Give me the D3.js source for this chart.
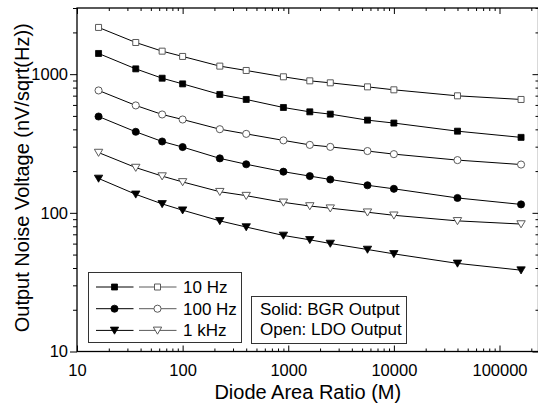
<!DOCTYPE html>
<html>
<head>
<meta charset="utf-8">
<script src="https://cdn.jsdelivr.net/npm/d3@7/dist/d3.min.js"></script>
<style>
  html, body { margin: 0; padding: 0; background: #fff; }
  svg { display: block; font-family: "Liberation Sans", Arial, sans-serif; }
</style>
</head>
<body>
<div id="app"></div>
<script>
// diode area ratio M
const ratios = [16, 36, 64, 100, 225, 400, 900, 1600, 2500, 5625, 10000, 40000, 160000];

// noise, nV/sqrt(Hz)
const bgr10 = [1410, 1092, 935, 851, 714, 657, 575, 535, 515, 466, 444, 388, 350];
const ldo10 = [2173, 1692, 1465, 1342, 1143, 1063, 957, 895, 866, 810, 771, 698, 657];
const bgr100 = [495, 384, 327, 298, 247, 224, 198, 184, 174, 158, 149, 128, 115];
const ldo100 = [763, 595, 512, 471, 401, 371, 333, 309, 299, 279, 265, 240, 223];
const bgr1k = [177, 136, 116, 104.5, 87.5, 79, 68.7, 63.9, 60.1, 54.4, 50.6, 43.2, 38.6];
const ldo1k = [272, 212, 184, 167, 142, 133, 119, 112, 108, 101, 96, 87.5, 83];

const xTicks = [10, 100, 1000, 10000, 100000];
const yTicks = [10, 100, 1000];
const legendLabels = ['10 Hz', '100 Hz', '1 kHz'];
const noteLines = ['Solid: BGR Output', 'Open: LDO Output'];

const series = [
  { values: bgr10, shape: 'square', open: false },
  { values: ldo10, shape: 'square', open: true },
  { values: bgr100, shape: 'circle', open: false },
  { values: ldo100, shape: 'circle', open: true },
  { values: bgr1k, shape: 'triangle', open: false },
  { values: ldo1k, shape: 'triangle', open: true }
];

const width = 538;
const height = 405;
const margin = { top: 8, right: -0.5, bottom: 53.5, left: 77 };
const innerW = width - margin.left - margin.right;
const innerH = height - margin.top - margin.bottom;
const openStroke = '#5a5a5a';

const svg = d3.select('#app').append('svg')
  .attr('width', width)
  .attr('height', height);

const g = svg.append('g')
  .attr('transform', `translate(${margin.left},${margin.top})`);

const x = d3.scaleLog().domain([10, 234000]).range([0, innerW]);
const y = d3.scaleLog().domain([10, 3000]).range([innerH, 0]);

// minor tick values for both log axes
const minorsX = [];
for (let d = 10; d < 1e6; d *= 10)
  for (let k = 2; k <= 9; k++) if (d * k <= x.domain()[1]) minorsX.push(d * k);
const minorsY = [];
for (let d = 10; d < 1e4; d *= 10)
  for (let k = 2; k <= 9; k++) if (d * k <= y.domain()[1]) minorsY.push(d * k);

const tickStyle = sel => {
  sel.select('.domain').remove();
  sel.selectAll('line').attr('stroke', '#000');
  sel.selectAll('text').attr('font-size', 16.5).attr('fill', '#000');
};

// bottom: inward ticks
g.append('g').attr('transform', `translate(0,${innerH})`)
  .call(d3.axisBottom(x).tickValues(xTicks).tickSize(-6).tickPadding(13).tickFormat(d3.format('d')))
  .call(tickStyle);
g.append('g').attr('transform', `translate(0,${innerH})`)
  .call(d3.axisBottom(x).tickValues(minorsX).tickSize(-3).tickFormat(''))
  .call(tickStyle);
// top: inward ticks
g.append('g')
  .call(d3.axisTop(x).tickValues(xTicks).tickSize(-6).tickFormat(''))
  .call(tickStyle);
g.append('g')
  .call(d3.axisTop(x).tickValues(minorsX).tickSize(-3).tickFormat(''))
  .call(tickStyle);
// left: outward ticks
g.append('g')
  .call(d3.axisLeft(y).tickValues(yTicks).tickSize(7).tickPadding(2).tickFormat(d3.format('d')))
  .call(tickStyle);
g.append('g')
  .call(d3.axisLeft(y).tickValues(minorsY).tickSize(4).tickFormat(''))
  .call(tickStyle);
// right: inward ticks
g.append('g').attr('transform', `translate(${innerW},0)`)
  .call(d3.axisRight(y).tickValues(yTicks).tickSize(-6).tickFormat(''))
  .call(tickStyle);
g.append('g').attr('transform', `translate(${innerW},0)`)
  .call(d3.axisRight(y).tickValues(minorsY).tickSize(-3).tickFormat(''))
  .call(tickStyle);

g.append('rect')
  .attr('width', innerW).attr('height', innerH)
  .attr('fill', 'none').attr('stroke', '#000').attr('stroke-width', 1.3);

const markerPath = shape => {
  if (shape === 'square') return 'M-3,-3H3V3H-3Z';
  if (shape === 'circle') return d3.symbol(d3.symbolCircle, 40)();
  return 'M-4.2,-3.3H4.2L0,3.8Z';
};

const drawMarker = (sel, s) => sel.append('path')
  .attr('d', markerPath(s.shape))
  .attr('fill', s.open ? '#fff' : '#000')
  .attr('stroke', s.open ? openStroke : '#000')
  .attr('stroke-width', s.open ? 1 : 0.8);

const line = d3.line().x(d => x(d[0])).y(d => y(d[1]));

series.forEach(s => {
  const pts = ratios.map((r, i) => [r, s.values[i]]);
  g.append('path')
    .datum(pts)
    .attr('d', line)
    .attr('fill', 'none')
    .attr('stroke', '#000')
    .attr('stroke-width', 1);
  pts.forEach(p => {
    const m = g.append('g').attr('transform', `translate(${x(p[0])},${y(p[1])})`);
    drawMarker(m, s);
  });
});

// legend: markers
const legend = svg.append('g');
legend.append('rect')
  .attr('x', 88.5).attr('y', 272.5).attr('width', 153).attr('height', 70)
  .attr('fill', '#fff').attr('stroke', '#333').attr('stroke-width', 1);

legendLabels.forEach((label, i) => {
  const ly = 287 + i * 21.7;
  [series[i * 2], series[i * 2 + 1]].forEach((s, j) => {
    const x0 = j ? 139 : 96;
    legend.append('line')
      .attr('x1', x0).attr('x2', x0 + 37.5).attr('y1', ly).attr('y2', ly)
      .attr('stroke', s.open ? openStroke : '#000').attr('stroke-width', 1);
    drawMarker(legend.append('g').attr('transform', `translate(${x0 + 18.5},${ly})`), s);
  });
  legend.append('text')
    .attr('x', 183).attr('y', ly + 6)
    .attr('font-size', 17)
    .text(label);
});

// legend: solid / open note
const note = svg.append('g');
note.append('rect')
  .attr('x', 251.5).attr('y', 296.5).attr('width', 155).attr('height', 47)
  .attr('fill', '#fff').attr('stroke', '#333').attr('stroke-width', 1);
noteLines.forEach((t, i) => {
  note.append('text')
    .attr('x', 260).attr('y', 315 + i * 19.5)
    .attr('font-size', 17)
    .text(t);
});

// axis titles
svg.append('text')
  .attr('x', margin.left + innerW / 2).attr('y', 399)
  .attr('text-anchor', 'middle')
  .attr('font-size', 20)
  .text('Diode Area Ratio (M)');

svg.append('text')
  .attr('transform', `translate(29,${margin.top + innerH / 2 - 2}) rotate(-90)`)
  .attr('text-anchor', 'middle')
  .attr('font-size', 20)
  .text('Output Noise Voltage (nV/sqrt(Hz))');
</script>
</body>
</html>
